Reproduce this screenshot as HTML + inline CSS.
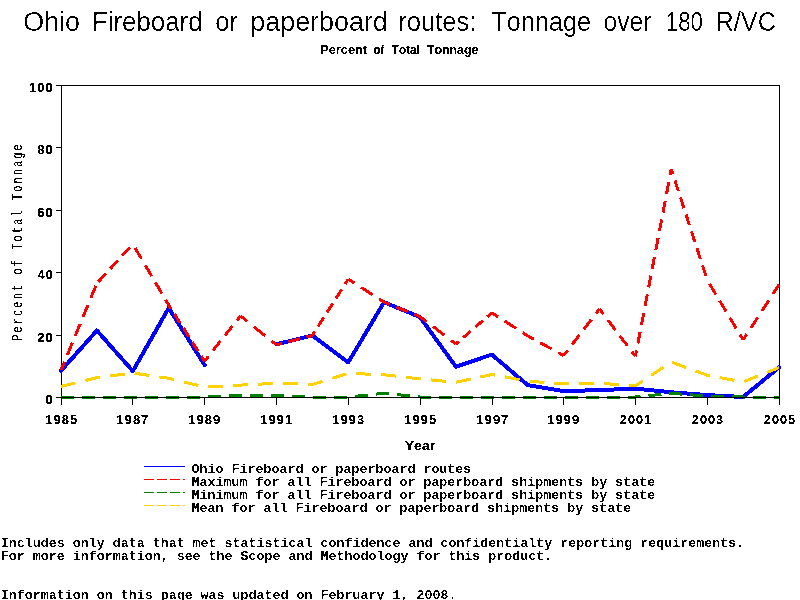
<!DOCTYPE html>
<html><head><meta charset="utf-8"><style>
html,body{margin:0;padding:0;background:#fff;width:800px;height:600px;overflow:hidden}
svg{position:absolute;left:0;top:0}
text{font-kerning:none;font-variant-ligatures:none;fill:#000}
.sr{font-family:"Liberation Sans",sans-serif}
.sb{font-family:"Liberation Sans",sans-serif;font-weight:bold}
.mr{font-family:"Liberation Mono",monospace}
.mb{font-family:"Liberation Mono",monospace;font-weight:bold}
</style></head><body>
<svg width="800" height="600" viewBox="0 0 800 600">
<defs><filter id="th" x="0" y="0" width="800" height="600" filterUnits="userSpaceOnUse"><feComponentTransfer><feFuncA type="discrete" tableValues="0 1"/></feComponentTransfer></filter><filter id="tt" x="0" y="0" width="800" height="600" filterUnits="userSpaceOnUse"><feComponentTransfer><feFuncA type="discrete" tableValues="0 0 0 1 1"/></feComponentTransfer></filter><filter id="tb" x="0" y="0" width="800" height="600" filterUnits="userSpaceOnUse"><feComponentTransfer><feFuncA type="discrete" tableValues="0 0 1 1 1"/></feComponentTransfer></filter><filter id="ty" x="0" y="0" width="800" height="600" filterUnits="userSpaceOnUse"><feComponentTransfer><feFuncA type="discrete" tableValues="0 0 1 1 1"/></feComponentTransfer></filter></defs>
<g filter="url(#tb)">
<text transform="translate(320.14,54.00) scale(0.9797,1)" style="font-size:13.08px" class="sb">Percent</text>
<text transform="translate(373.55,54.00) scale(0.8852,1)" style="font-size:13.08px" class="sb">of</text>
<text transform="translate(391.87,54.00) scale(0.8948,1)" style="font-size:13.08px" class="sb">Total</text>
<text transform="translate(426.86,54.00) scale(0.9460,1)" style="font-size:13.08px" class="sb">Tonnage</text>
<text transform="translate(404.76,450.00) scale(1.0735,1)" style="font-size:13.08px" class="sb">Year</text>
<text transform="translate(45.21,404.00) scale(1.0767,1)" style="font-size:12.69px;letter-spacing:1.000px" class="sb">0</text>
<text transform="translate(37.30,342.00) scale(1.0241,1)" style="font-size:12.69px;letter-spacing:1.000px" class="sb">20</text>
<text transform="translate(37.56,279.00) scale(1.0065,1)" style="font-size:12.69px;letter-spacing:1.000px" class="sb">40</text>
<text transform="translate(37.27,217.00) scale(1.0259,1)" style="font-size:12.69px;letter-spacing:1.000px" class="sb">60</text>
<text transform="translate(37.34,154.00) scale(1.0214,1)" style="font-size:12.69px;letter-spacing:1.000px" class="sb">80</text>
<text transform="translate(28.93,92.00) scale(1.0293,1)" style="font-size:12.69px;letter-spacing:1.000px" class="sb">100</text>
<text transform="translate(45.49,424.00) scale(1.0104,1)" style="font-size:12.69px;letter-spacing:1.000px" class="sb">1985</text>
<text transform="translate(116.49,424.00) scale(1.0173,1)" style="font-size:12.69px;letter-spacing:1.000px" class="sb">1987</text>
<text transform="translate(188.49,424.00) scale(1.0144,1)" style="font-size:12.69px;letter-spacing:1.000px" class="sb">1989</text>
<text transform="translate(260.49,424.00) scale(1.0104,1)" style="font-size:12.69px;letter-spacing:1.000px" class="sb">1991</text>
<text transform="translate(332.49,424.00) scale(1.0140,1)" style="font-size:12.69px;letter-spacing:1.000px" class="sb">1993</text>
<text transform="translate(404.49,424.00) scale(1.0104,1)" style="font-size:12.69px;letter-spacing:1.000px" class="sb">1995</text>
<text transform="translate(476.49,424.00) scale(1.0173,1)" style="font-size:12.69px;letter-spacing:1.000px" class="sb">1997</text>
<text transform="translate(547.49,424.00) scale(1.0144,1)" style="font-size:12.69px;letter-spacing:1.000px" class="sb">1999</text>
<text transform="translate(619.86,424.00) scale(0.9985,1)" style="font-size:12.69px;letter-spacing:1.000px" class="sb">2001</text>
<text transform="translate(691.86,424.00) scale(1.0020,1)" style="font-size:12.69px;letter-spacing:1.000px" class="sb">2003</text>
<text transform="translate(763.86,424.00) scale(0.9985,1)" style="font-size:12.69px;letter-spacing:1.000px" class="sb">2005</text>
</g>
<g filter="url(#ty)">
<text transform="translate(22.2,340.73) rotate(-90) scale(0.6800,1)" style="font-size:15.18px;letter-spacing:3.068px" class="mr">Percent of Total Tonnage</text>
</g>
<g filter="url(#tt)">
<text transform="translate(23.23,31.00) scale(0.9711,1)" style="font-size:27.62px" class="sr">Ohio</text>
<text transform="translate(91.88,31.00) scale(0.9374,1)" style="font-size:27.62px" class="sr">Fireboard</text>
<text transform="translate(215.18,31.00) scale(0.9264,1)" style="font-size:27.62px" class="sr">or</text>
<text transform="translate(250.27,31.00) scale(0.9738,1)" style="font-size:27.62px" class="sr">paperboard</text>
<text transform="translate(398.31,31.00) scale(0.9242,1)" style="font-size:27.62px" class="sr">routes:</text>
<text transform="translate(491.43,31.00) scale(0.9144,1)" style="font-size:27.62px" class="sr">Tonnage</text>
<text transform="translate(603.47,31.00) scale(0.8924,1)" style="font-size:27.62px" class="sr">over</text>
<text transform="translate(665.81,31.00) scale(0.8043,1)" style="font-size:27.62px" class="sr">180</text>
<text transform="translate(715.42,31.00) scale(0.9176,1)" style="font-size:27.62px" class="sr">R/VC</text>
</g>
<rect x="61.5" y="85.5" width="718" height="312" fill="none" stroke="#000" stroke-width="1"/>
<polyline points="61.0,370.8 96.9,330.5 132.8,371.1 168.7,308.1 204.6,364.9" fill="none" stroke="#0000FF" stroke-width="4" stroke-dashoffset="0" stroke-linecap="round" stroke-linejoin="round" shape-rendering="crispEdges"/>
<polyline points="276.4,344.3 312.3,335.5 348.2,362.4 384.1,302.2 420.0,317.1 455.9,366.7 491.8,354.6 527.7,385.1 563.6,391.1 599.5,390.1 635.4,388.6 671.3,392.3 707.2,395.1 743.1,397.0 779.0,367.4" fill="none" stroke="#0000FF" stroke-width="4" stroke-dashoffset="0" stroke-linecap="round" stroke-linejoin="round" shape-rendering="crispEdges"/>
<line x1="61.0" y1="370.2" x2="96.9" y2="283.4" stroke="#FF0000" stroke-width="3" stroke-dasharray="13.01 7.59" stroke-dashoffset="4.00" shape-rendering="crispEdges"/>
<line x1="96.9" y1="283.4" x2="132.8" y2="244.1" stroke="#FF0000" stroke-width="3" stroke-dasharray="11.21 6.54" stroke-dashoffset="15.50" shape-rendering="crispEdges"/>
<line x1="132.8" y1="244.1" x2="168.7" y2="305.0" stroke="#FF0000" stroke-width="3" stroke-dasharray="12.65 7.38" stroke-dashoffset="15.50" shape-rendering="crispEdges"/>
<line x1="168.7" y1="305.0" x2="204.6" y2="361.1" stroke="#FF0000" stroke-width="3" stroke-dasharray="10.52 6.14" stroke-dashoffset="6.00" shape-rendering="crispEdges"/>
<line x1="204.6" y1="361.1" x2="240.5" y2="315.9" stroke="#FF0000" stroke-width="3" stroke-dasharray="12.16 7.09" stroke-dashoffset="6.00" shape-rendering="crispEdges"/>
<line x1="240.5" y1="315.9" x2="276.4" y2="344.9" stroke="#FF0000" stroke-width="3" stroke-dasharray="14.58 8.50" stroke-dashoffset="6.00" shape-rendering="crispEdges"/>
<line x1="276.4" y1="344.9" x2="312.3" y2="335.5" stroke="#FF0000" stroke-width="3" stroke-dasharray="11.72 6.83" stroke-dashoffset="6.00" shape-rendering="crispEdges"/>
<line x1="312.3" y1="335.5" x2="348.2" y2="279.1" stroke="#FF0000" stroke-width="3" stroke-dasharray="10.57 6.16" stroke-dashoffset="6.00" shape-rendering="crispEdges"/>
<line x1="348.2" y1="279.1" x2="384.1" y2="302.2" stroke="#FF0000" stroke-width="3" stroke-dasharray="13.48 7.86" stroke-dashoffset="6.00" shape-rendering="crispEdges"/>
<line x1="384.1" y1="302.2" x2="420.0" y2="316.5" stroke="#FF0000" stroke-width="3" stroke-dasharray="12.21 7.12" stroke-dashoffset="6.00" shape-rendering="crispEdges"/>
<line x1="420.0" y1="316.5" x2="455.9" y2="344.0" stroke="#FF0000" stroke-width="3" stroke-dasharray="14.27 8.33" stroke-dashoffset="6.00" shape-rendering="crispEdges"/>
<line x1="455.9" y1="344.0" x2="491.8" y2="312.8" stroke="#FF0000" stroke-width="3" stroke-dasharray="10.01 5.84" stroke-dashoffset="6.00" shape-rendering="crispEdges"/>
<line x1="491.8" y1="312.8" x2="527.7" y2="335.8" stroke="#FF0000" stroke-width="3" stroke-dasharray="13.48 7.86" stroke-dashoffset="6.00" shape-rendering="crispEdges"/>
<line x1="527.7" y1="335.8" x2="563.6" y2="355.5" stroke="#FF0000" stroke-width="3" stroke-dasharray="12.92 7.54" stroke-dashoffset="6.00" shape-rendering="crispEdges"/>
<line x1="563.6" y1="355.5" x2="599.5" y2="309.0" stroke="#FF0000" stroke-width="3" stroke-dasharray="12.37 7.21" stroke-dashoffset="6.00" shape-rendering="crispEdges"/>
<line x1="599.5" y1="309.0" x2="635.4" y2="356.4" stroke="#FF0000" stroke-width="3" stroke-dasharray="12.52 7.30" stroke-dashoffset="6.00" shape-rendering="crispEdges"/>
<line x1="635.4" y1="356.4" x2="671.3" y2="169.2" stroke="#FF0000" stroke-width="3" stroke-dasharray="12.04 7.02" stroke-dashoffset="6.00" shape-rendering="crispEdges"/>
<line x1="671.3" y1="169.2" x2="707.2" y2="280.0" stroke="#FF0000" stroke-width="3" stroke-dasharray="11.26 6.57" stroke-dashoffset="6.00" shape-rendering="crispEdges"/>
<line x1="707.2" y1="280.0" x2="743.1" y2="339.9" stroke="#FF0000" stroke-width="3" stroke-dasharray="12.53 7.31" stroke-dashoffset="15.50" shape-rendering="crispEdges"/>
<line x1="743.1" y1="339.9" x2="779.0" y2="284.7" stroke="#FF0000" stroke-width="3" stroke-dasharray="12.81 7.47" stroke-dashoffset="6.00" shape-rendering="crispEdges"/>
<polyline points="61.0,397.0 96.9,397.0 132.8,397.0 168.7,397.0 204.6,397.0 240.5,395.4 276.4,395.4 312.3,397.0 348.2,397.0 384.1,393.3 420.0,397.0 455.9,397.0 491.8,397.0 527.7,397.0 563.6,397.0 599.5,397.0 635.4,397.0 671.3,393.3 707.2,396.1 743.1,397.0 779.0,397.0" fill="none" stroke="#008000" stroke-width="3" stroke-dasharray="13 8" stroke-dashoffset="0" stroke-linecap="butt" stroke-linejoin="round" shape-rendering="crispEdges"/>
<polyline points="61.0,386.4 96.9,377.7 132.8,373.0 168.7,378.3 204.6,387.0 240.5,385.1 276.4,383.3 312.3,384.5 348.2,373.3 384.1,374.8 420.0,378.9 455.9,382.3 491.8,374.5 527.7,381.1 563.6,383.9 599.5,383.3 635.4,385.8 671.3,362.1 707.2,375.2 743.1,382.0 779.0,367.7" fill="none" stroke="#FFD200" stroke-width="3" stroke-dasharray="15 10" stroke-dashoffset="0" stroke-linecap="butt" stroke-linejoin="round" shape-rendering="crispEdges"/>
<line x1="61" y1="397.5" x2="780" y2="397.5" stroke="#000" stroke-width="1"/>
<line x1="56" y1="397.5" x2="61" y2="397.5" stroke="#000" stroke-width="1"/>
<line x1="56" y1="335.5" x2="61" y2="335.5" stroke="#000" stroke-width="1"/>
<line x1="56" y1="272.5" x2="61" y2="272.5" stroke="#000" stroke-width="1"/>
<line x1="56" y1="210.5" x2="61" y2="210.5" stroke="#000" stroke-width="1"/>
<line x1="56" y1="147.5" x2="61" y2="147.5" stroke="#000" stroke-width="1"/>
<line x1="56" y1="85.5" x2="61" y2="85.5" stroke="#000" stroke-width="1"/>
<line x1="61.5" y1="397" x2="61.5" y2="405" stroke="#000" stroke-width="1"/>
<line x1="132.5" y1="397" x2="132.5" y2="405" stroke="#000" stroke-width="1"/>
<line x1="204.5" y1="397" x2="204.5" y2="405" stroke="#000" stroke-width="1"/>
<line x1="276.5" y1="397" x2="276.5" y2="405" stroke="#000" stroke-width="1"/>
<line x1="348.5" y1="397" x2="348.5" y2="405" stroke="#000" stroke-width="1"/>
<line x1="420.5" y1="397" x2="420.5" y2="405" stroke="#000" stroke-width="1"/>
<line x1="492.5" y1="397" x2="492.5" y2="405" stroke="#000" stroke-width="1"/>
<line x1="563.5" y1="397" x2="563.5" y2="405" stroke="#000" stroke-width="1"/>
<line x1="635.5" y1="397" x2="635.5" y2="405" stroke="#000" stroke-width="1"/>
<line x1="707.5" y1="397" x2="707.5" y2="405" stroke="#000" stroke-width="1"/>
<line x1="779.5" y1="397" x2="779.5" y2="405" stroke="#000" stroke-width="1"/>
<line x1="144" y1="466.5" x2="185" y2="466.5" stroke="#0000FF" stroke-width="1"/>
<line x1="144" y1="479.5" x2="185" y2="479.5" stroke="#FF0000" stroke-width="1" stroke-dasharray="10 3"/>
<line x1="144" y1="492.5" x2="185" y2="492.5" stroke="#008000" stroke-width="1" stroke-dasharray="10 3"/>
<line x1="144" y1="505.5" x2="185" y2="505.5" stroke="#FFD200" stroke-width="1" stroke-dasharray="10 3"/>
<g filter="url(#th)">
<text transform="translate(191.60,473.00) scale(0.9759,1)" style="font-size:13.66px" class="mb">Ohio Fireboard or paperboard routes</text>
<text transform="translate(191.60,486.00) scale(0.9759,1)" style="font-size:13.66px" class="mb">Maximum for all Fireboard or paperboard shipments by state</text>
<text transform="translate(191.60,499.00) scale(0.9759,1)" style="font-size:13.66px" class="mb">Minimum for all Fireboard or paperboard shipments by state</text>
<text transform="translate(191.60,512.00) scale(0.9759,1)" style="font-size:13.66px" class="mb">Mean for all Fireboard or paperboard shipments by state</text>
<text transform="translate(0.80,547.00) scale(0.9759,1)" style="font-size:13.66px" class="mb">Includes only data that met statistical confidence and confidentialty reporting requirements.</text>
<text transform="translate(0.80,560.00) scale(0.9759,1)" style="font-size:13.66px" class="mb">For more information, see the Scope and Methodology for this product.</text>
<text transform="translate(0.80,599.00) scale(0.9759,1)" style="font-size:13.66px" class="mb">Information on this page was updated on February 1, 2008.</text>
</g>
</svg>
</body></html>
